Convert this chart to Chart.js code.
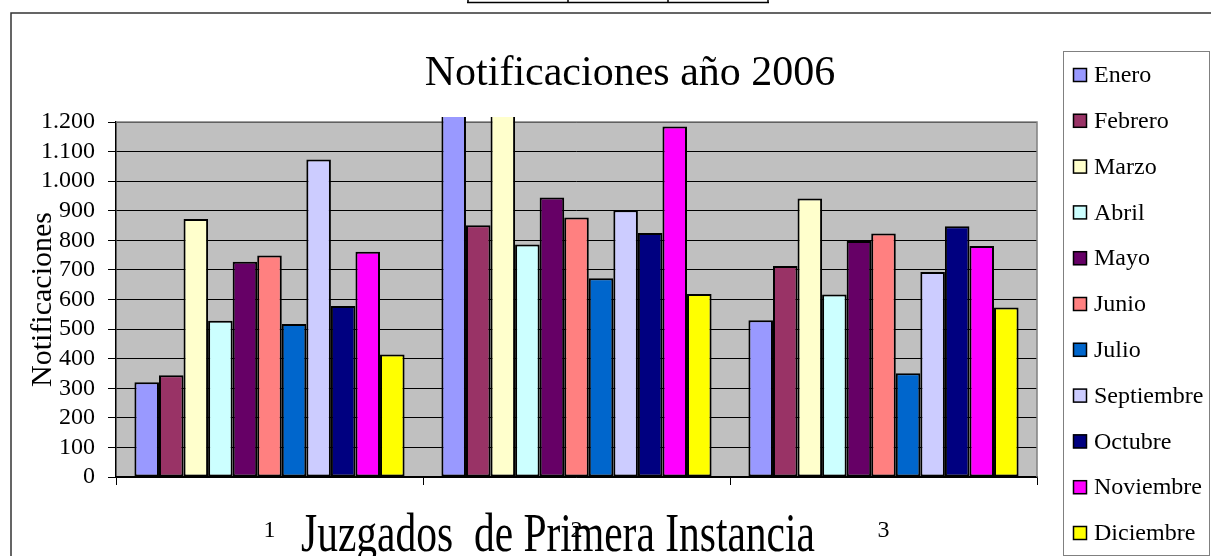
<!DOCTYPE html>
<html lang="es">
<head>
<meta charset="UTF-8">
<title>Notificaciones año 2006</title>
<script src="https://cdn.jsdelivr.net/npm/chart.js"></script>
<style>
  body { margin: 0; background: #fff; }
</style>
</head>
<body>
<canvas id="grafico" width="1211" height="556"></canvas>
<script>
// datos
const juzgados = ['1', '2', '3'];
const meses = ['Enero', 'Febrero', 'Marzo', 'Abril', 'Mayo', 'Junio', 'Julio',
               'Septiembre', 'Octubre', 'Noviembre', 'Diciembre'];

const enero      = [320, 1300, 530];   // juzgado 2 se sale del eje
const febrero    = [344, 851, 713];
const marzo      = [872, 1300, 941];   // juzgado 2 se sale del eje
const abril      = [528, 786, 617];
const mayo       = [728, 945, 798];
const junio      = [749, 877, 823];
const julio      = [517, 672, 351];
const septiembre = [1073, 902, 693];
const octubre    = [578, 825, 848];
const noviembre  = [761, 1185, 781];
const diciembre  = [414, 619, 573];

const valores = [enero, febrero, marzo, abril, mayo, junio, julio,
                 septiembre, octubre, noviembre, diciembre];

const colores = ['#9999FF', '#993366', '#FFFFCC', '#CCFFFF', '#660066', '#FF8080',
                 '#0066CC', '#CCCCFF', '#000080', '#FF00FF', '#FFFF00'];

const yMax = 1200;
const yPaso = 100;

const fuente = '"Liberation Serif", "Times New Roman", serif';

function miles(v) {
  return String(v).replace(/\B(?=(\d{3})+(?!\d))/g, '.');
}

// fondo gris del area de trazado, marco y textos sueltos
const adornos = {
  id: 'adornos',
  beforeDraw(chart) {
    const {ctx, chartArea: a} = chart;
    ctx.save();
    ctx.fillStyle = '#C0C0C0';
    ctx.fillRect(a.left, a.top, a.right - a.left, a.bottom - a.top);
    ctx.restore();
  },
  beforeDatasetsDraw(chart) {
    const {ctx, chartArea: a} = chart;
    ctx.save();
    ctx.strokeStyle = '#808080';
    ctx.lineWidth = 1.5;
    ctx.beginPath();
    ctx.moveTo(a.left, a.top);
    ctx.lineTo(a.right, a.top);
    ctx.lineTo(a.right, a.bottom);
    ctx.stroke();
    ctx.restore();
  },
  afterDraw(chart) {
    const ctx = chart.ctx;
    ctx.save();
    // trozo de tabla del documento, arriba
    ctx.strokeStyle = '#000';
    ctx.lineWidth = 1.5;
    ctx.beginPath();
    [468, 568, 668, 768].forEach(x => { ctx.moveTo(x, 0); ctx.lineTo(x, 3); });
    ctx.moveTo(467, 2.5);
    ctx.lineTo(769, 2.5);
    ctx.stroke();

    // marco exterior
    ctx.strokeStyle = '#333';
    ctx.lineWidth = 1.5;
    ctx.beginPath();
    ctx.moveTo(11, 560);
    ctx.lineTo(11, 13);
    ctx.lineTo(1215, 13);
    ctx.stroke();

    // titulo
    ctx.fillStyle = '#000';
    ctx.textAlign = 'center';
    ctx.textBaseline = 'alphabetic';
    ctx.font = '42px ' + fuente;
    ctx.fillText('Notificaciones año 2006', 630, 85);

    // titulo del eje x (estirado en vertical como en el original)
    ctx.save();
    ctx.translate(558, 551);
    ctx.scale(1, 1.3);
    ctx.font = '41.5px ' + fuente;
    ctx.fillText('Juzgados  de Primera Instancia', 0, 0);
    ctx.restore();

    // leyenda
    ctx.strokeStyle = '#808080';
    ctx.lineWidth = 1;
    ctx.strokeRect(1063.5, 51.5, 146, 504);
    ctx.font = '24px ' + fuente;
    ctx.textAlign = 'left';
    ctx.textBaseline = 'middle';
    chart.data.datasets.forEach((ds, i) => {
      const y = 75 + i * 45.8;
      ctx.fillStyle = ds.backgroundColor;
      ctx.fillRect(1073, y - 7, 14, 14);
      ctx.strokeStyle = '#000';
      ctx.lineWidth = 1.5;
      ctx.strokeRect(1073.5, y - 6.5, 13, 13);
      ctx.fillStyle = '#000';
      ctx.fillText(ds.label, 1094, y + 1);
    });
    ctx.restore();
  }
};

const ctx = document.getElementById('grafico').getContext('2d');
const grafico = new Chart(ctx, {
  type: 'bar',
  data: {
    labels: juzgados,
    datasets: meses.map((m, i) => ({
      label: m,
      data: valores[i],
      backgroundColor: colores[i],
      borderColor: '#000',
      borderWidth: 2,
      borderSkipped: false,
      categoryPercentage: 0.88,
      barPercentage: 1.0,
      clip: {left: false, right: false, top: 5, bottom: false}
    }))
  },
  options: {
    responsive: false,
    animation: false,
    devicePixelRatio: 1,
    layout: {
      padding: {left: 12, top: 122, right: 174, bottom: 0}
    },
    plugins: {
      legend: { display: false },
      title: { display: false },
      tooltip: { enabled: false }
    },
    scales: {
      x: {
        grid: {
          display: true,
          drawOnChartArea: false,
          drawTicks: true,
          tickLength: 8,
          color: '#000',
          lineWidth: 1,
          offset: true
        },
        border: { display: true, color: '#000', width: 1.5 },
        ticks: {
          color: '#000',
          font: { family: fuente, size: 24 },
          padding: 31
        },
        afterFit(scale) { scale.height = 79; }
      },
      y: {
        min: 0,
        max: yMax,
        grid: {
          color: '#000',
          lineWidth: 1,
          tickLength: 8,
          drawTicks: true
        },
        border: { display: true, color: '#000', width: 1.5 },
        ticks: {
          stepSize: yPaso,
          autoSkip: false,
          color: '#000',
          font: { family: fuente, size: 24 },
          padding: 13,
          callback: v => miles(v)
        },
        title: {
          display: true,
          text: 'Notificaciones',
          color: '#000',
          font: { family: fuente, size: 30 },
          padding: { top: 13, bottom: 0 }
        },
        afterFit(scale) { scale.width = 104; }
      }
    }
  },
  plugins: [adornos]
});
</script>
</body>
</html>
